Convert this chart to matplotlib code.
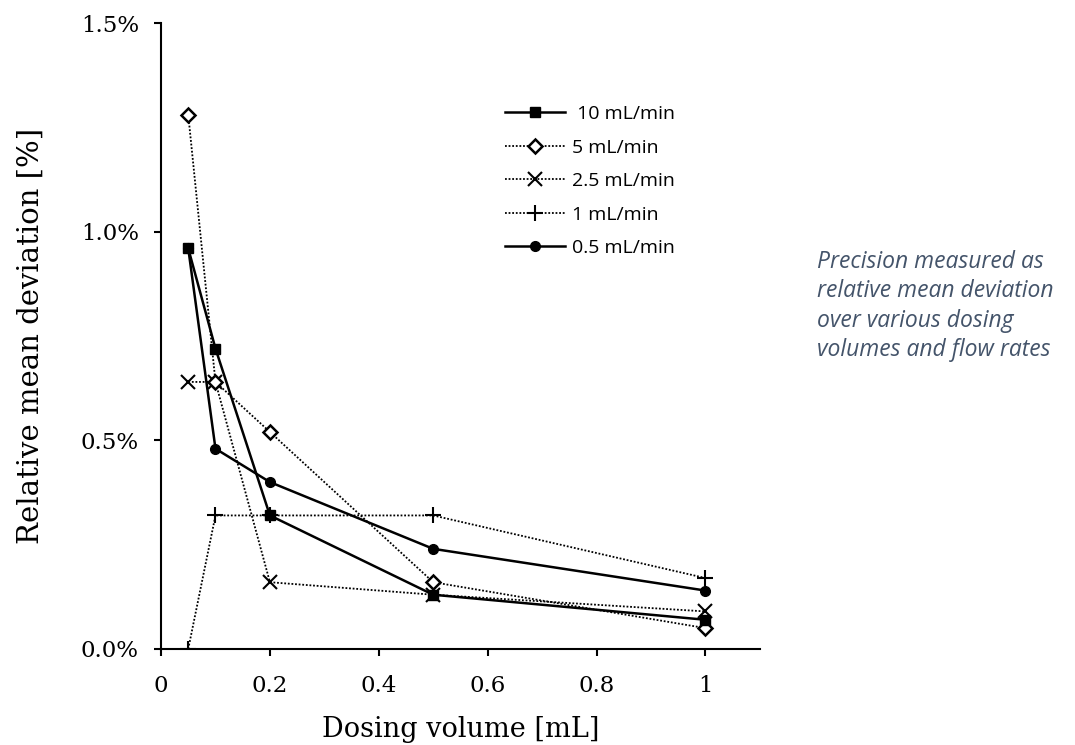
import numpy as np
import matplotlib.pyplot as plt
from matplotlib.ticker import FuncFormatter

# dosing volumes [mL]
vol = [0.05, 0.1, 0.2, 0.5, 1.0]

# relative mean deviation [%] per flow rate
dev_10 = [0.96, 0.72, 0.32, 0.13, 0.07]
dev_5 = [1.28, 0.64, 0.52, 0.16, 0.05]
dev_2_5 = [0.64, 0.64, 0.16, 0.13, 0.09]
dev_1 = [0.0, 0.32, 0.32, 0.32, 0.17]
dev_0_5 = [0.96, 0.48, 0.40, 0.24, 0.14]

labels = [' 10 mL/min', '5 mL/min', '2.5 mL/min', '1 mL/min', '0.5 mL/min']

fig = plt.figure(figsize=(10.75, 7.45), dpi=100)
ax = fig.add_axes([0.1498, 0.1289, 0.557, 0.8401])

dot = (0, (1, 1))
ax.plot(vol, dev_10, color='black', lw=1.8, marker='s', ms=7, label=labels[0], zorder=5)
ax.plot(vol, dev_5, color='black', lw=1.3, ls=dot, marker='D', ms=7, mfc='white',
        mew=1.8, label=labels[1], zorder=4)
ax.plot(vol, dev_2_5, color='black', lw=1.3, ls=dot, marker='x', ms=10, mew=1.5,
        label=labels[2], zorder=3)
ax.plot(vol, dev_1, color='black', lw=1.3, ls=dot, marker='+', ms=12, mew=1.5,
        label=labels[3], zorder=3)
ax.plot(vol, dev_0_5, color='black', lw=1.8, marker='o', ms=7, label=labels[4], zorder=4)

ax.set_xlim(0, 1.1)
ax.set_ylim(0, 1.5)
ax.set_xticks([0, 0.2, 0.4, 0.6, 0.8, 1.0])
ax.set_xticklabels(['0', '0.2', '0.4', '0.6', '0.8', '1'])
ax.set_yticks([0, 0.5, 1.0, 1.5])
ax.yaxis.set_major_formatter(FuncFormatter(lambda v, p: '%.1f%%' % v))

for s in ['top', 'right']:
    ax.spines[s].set_visible(False)
for s in ['left', 'bottom']:
    ax.spines[s].set_linewidth(1.5)
ax.tick_params(direction='out', length=5, width=1.5, labelsize=16.5)
ax.tick_params(axis='x', pad=13.5)
ax.tick_params(axis='y', pad=11)
for t in ax.get_xticklabels() + ax.get_yticklabels():
    t.set_family('DejaVu Serif')

ax.set_xlabel('Dosing volume [mL]', family='DejaVu Serif', fontsize=19.5, labelpad=14)
ax.set_ylabel('Relative mean deviation [%]', family='DejaVu Serif', fontsize=21, labelpad=26)

leg = ax.legend(loc='upper left', bbox_to_anchor=(505 / 1075, 1 - 105 / 745),
                bbox_transform=fig.transFigure, frameon=False,
                prop={'family': 'Open Sans', 'size': 14}, handlelength=3.1,
                labelspacing=0.8, handletextpad=0.35, borderpad=0, borderaxespad=0)

fig.text(817 / 1075, 1 - 250 / 745,
         'Precision measured as\nrelative mean deviation\nover various dosing\nvolumes and flow rates',
         family='Open Sans', style='italic', fontsize=16.5, color='#44546A',
         va='top', ha='left', linespacing=1.3)

fig.savefig('out.png', dpi=100)
